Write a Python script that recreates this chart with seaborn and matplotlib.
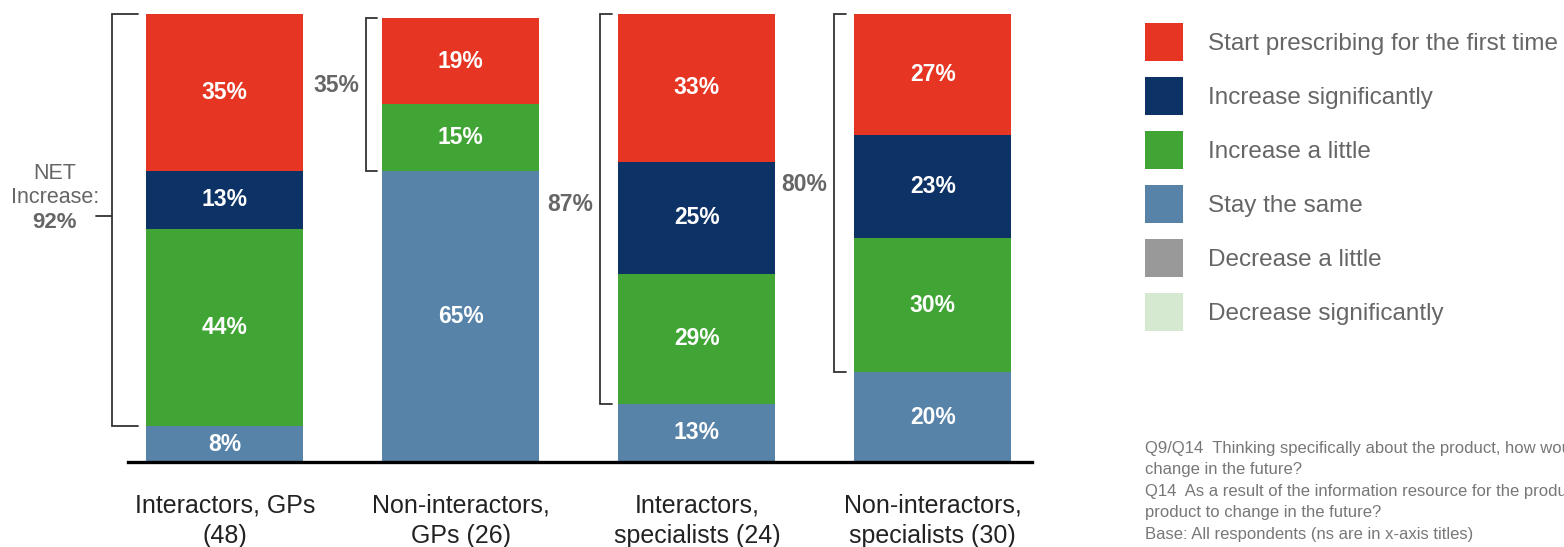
import numpy as np
import pandas as pd
import matplotlib
matplotlib.use('Agg')
import matplotlib.pyplot as plt
from matplotlib.patches import Patch
import seaborn as sns

# ==========================================
# data
# ==========================================
groups = ['Interactors, GPs\n(48)', 'Non-interactors,\nGPs (26)',
          'Interactors,\nspecialists (24)', 'Non-interactors,\nspecialists (30)']
start_first = [35, 19, 33, 27]
inc_sig = [13, 0, 25, 23]
inc_little = [44, 15, 29, 30]
stay_same = [8, 65, 13, 20]
dec_little = [0, 0, 0, 0]
dec_sig = [0, 0, 0, 0]
net_increase = [92, 35, 87, 80]

legend_labels = ['Start prescribing for the first time', 'Increase significantly',
                 'Increase a little', 'Stay the same', 'Decrease a little',
                 'Decrease significantly']
footnote = ("Q9/Q14  Thinking specifically about the product, how would you expect your prescribing to\n"
            "change in the future?\n"
            "Q14  As a result of the information resource for the product, how do you expect your prescribing of the\n"
            "product to change in the future?\n"
            "Base: All respondents (ns are in x-axis titles)")

colors = {'start': '#E63522', 'sig': '#0D3366', 'little': '#41A536',
          'same': '#5783A8', 'dlittle': '#999999', 'dsig': '#D5E8D0'}

sns.set_style('white')
plt.rcParams['font.family'] = ['Liberation Sans', 'DejaVu Sans']

df = pd.DataFrame({'group': groups, 'same': stay_same, 'little': inc_little,
                   'sig': inc_sig, 'start': start_first})

fig = plt.figure(figsize=(15.64, 5.47), dpi=100)
W, H = 1564, 547
# axes: x from 128px to 1032px, y from 462px (0%) to 14px (100%)
ax = fig.add_axes([128 / W, 1 - 462 / H, (1032 - 128) / W, 448 / H])

# stacked bars: draw cumulative totals, largest first
order = ['same', 'little', 'sig', 'start']
cum = df[order].cumsum(axis=1)
BAR_W = 0.665
for key in reversed(order):
    sns.barplot(x=df['group'], y=cum[key], color=colors[key], width=BAR_W,
                saturation=1, ax=ax, linewidth=0)

# segment labels
for i in range(len(df)):
    bottom = 0
    for key in order:
        v = df[key].iloc[i]
        if v > 0:
            ax.text(i, bottom + v / 2, f'{v}%', ha='center', va='center',
                    color='white', fontsize=16.5, fontweight='bold')
        bottom += v

# NET brackets
bracket_gap = [0.144, 0.068, 0.076, 0.085]
tick_len = [0.11, 0.045, 0.05, 0.05]
label_shift = [0, 2, 1, 2]
GREY = '#666666'
for i in range(len(df)):
    lo = df['same'].iloc[i]
    hi = cum['start'].iloc[i]
    xv = i - BAR_W / 2 - bracket_gap[i]
    xt = xv + tick_len[i]
    ax.plot([xt, xv, xv, xt], [hi, hi, lo, lo], color='#333333', lw=1.3,
            clip_on=False, solid_joinstyle='miter')
    mid = (lo + hi) / 2
    if i == 0:
        ax.plot([xv - 0.068, xv], [mid + 1, mid + 1], color='#333333', lw=1.3, clip_on=False)
        ax.text(-0.72, mid + 10.4, 'NET', ha='center', va='center', color=GREY, fontsize=15.5)
        ax.text(-0.72, mid + 5.0, 'Increase:', ha='center', va='center', color=GREY, fontsize=15.5)
        ax.text(-0.72, mid - 0.5, f'{net_increase[i]}%', ha='center', va='center',
                color=GREY, fontsize=16, fontweight='bold')
    else:
        ax.text(xv - 0.03, mid + label_shift[i], f'{net_increase[i]}%', ha='right', va='center',
                color=GREY, fontsize=16.5, fontweight='bold')

ax.set_xlim(-0.41, 3.42)
ax.set_ylim(0, 100)
ax.set_ylabel('')
ax.set_xlabel('')
ax.set_yticks([])
ax.tick_params(axis='x', length=0, pad=23, labelsize=18, labelcolor='#222222')
for lab in ax.get_xticklabels():
    lab.set_linespacing(1.3)
for s in ['top', 'right', 'left']:
    ax.spines[s].set_visible(False)
ax.spines['bottom'].set_color('black')
ax.spines['bottom'].set_linewidth(2.4)

# legend
leg_colors = [colors['start'], colors['sig'], colors['little'], colors['same'],
              colors['dlittle'], colors['dsig']]
handles = [Patch(facecolor=c, edgecolor='none') for c in leg_colors]
fig.legend(handles, legend_labels, loc='upper left',
           bbox_to_anchor=(1145 / W, 1 - 23 / H), frameon=False, fontsize=17.5,
           handlelength=1.566, handleheight=2.03, labelspacing=0.657,
           handletextpad=1.03, borderpad=0, borderaxespad=0, labelcolor=GREY)

fig.text(1145 / W, 1 - 441 / H, footnote, ha='left', va='top', fontsize=12,
         color='#777777', linespacing=1.54)

fig.savefig('out.png', dpi=100)
